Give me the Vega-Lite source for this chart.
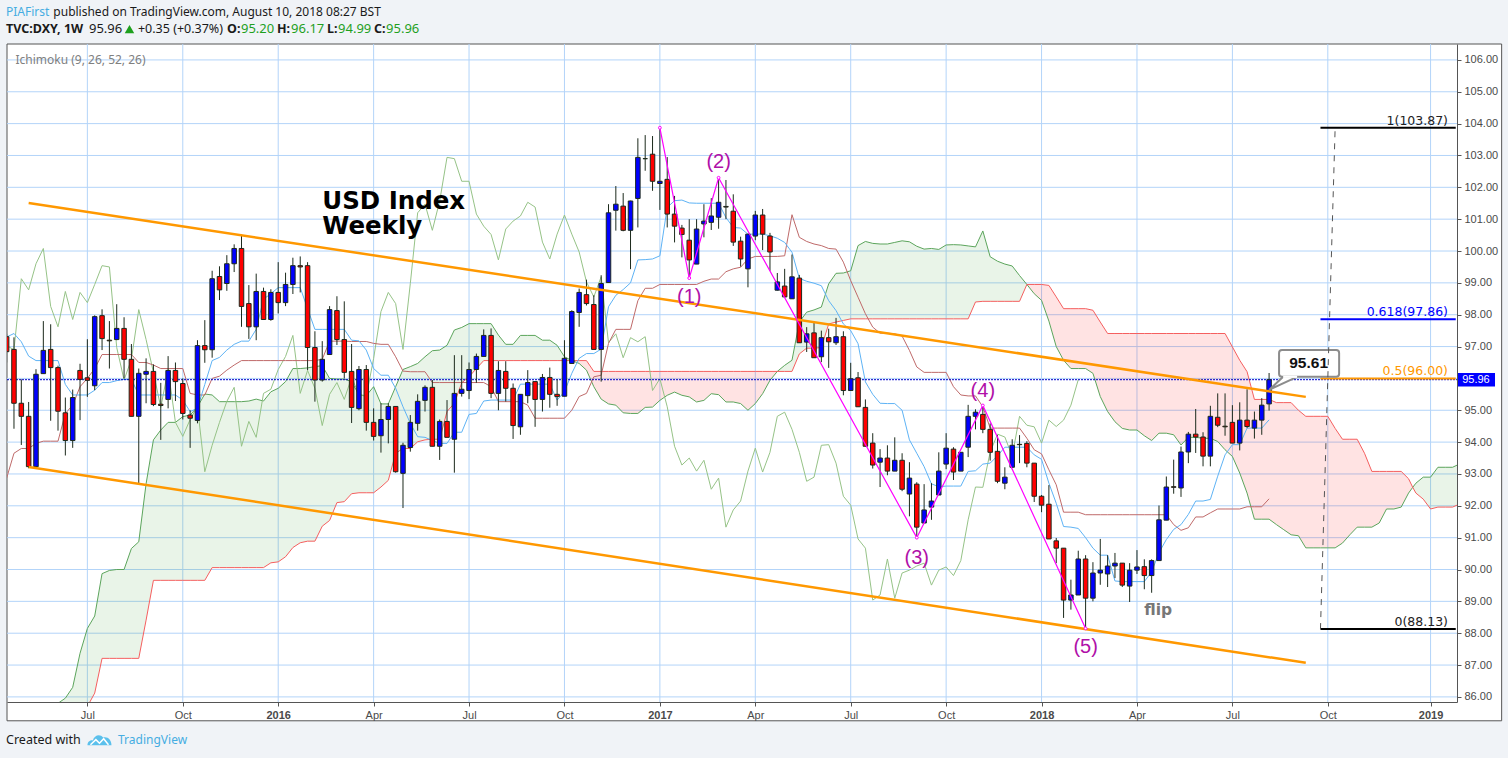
{"$schema":"https://vega.github.io/schema/vega-lite/v6.json","width":1450,"height":658,"autosize":{"type":"none"},"padding":{"left":7,"top":44,"right":51,"bottom":56},"background":"#f0f3f7","view":{"stroke":null,"fill":null},"config":{"axis":{"labelFont":"Liberation Sans"}},
"datasets":{
"candles":[
{"d":"2015-04-20","o":97.31,"h":97.4,"l":96.5,"c":96.84,"tenkan":97.3,"kijun":92.87},
{"d":"2015-04-27","o":96.91,"h":97.29,"l":94.42,"c":95.22,"tenkan":97.41,"kijun":93.65},
{"d":"2015-05-04","o":95.22,"h":95.97,"l":93.91,"c":94.81,"tenkan":97.15,"kijun":93.8},
{"d":"2015-05-11","o":94.81,"h":95.26,"l":93.18,"c":93.23,"tenkan":96.7,"kijun":93.8},
{"d":"2015-05-18","o":93.23,"h":96.29,"l":93.2,"c":96.13,"tenkan":96.56,"kijun":93.96},
{"d":"2015-05-25","o":96.15,"h":97.8,"l":96.15,"c":96.88,"tenkan":96.56,"kijun":94.03},
{"d":"2015-06-01","o":96.91,"h":97.7,"l":94.67,"c":96.34,"tenkan":96.56,"kijun":94.03},
{"d":"2015-06-08","o":96.34,"h":96.4,"l":94.36,"c":94.97,"tenkan":96.56,"kijun":94.03},
{"d":"2015-06-15","o":94.92,"h":95.4,"l":93.58,"c":94.05,"tenkan":95.81,"kijun":94.9},
{"d":"2015-06-22","o":94.05,"h":95.65,"l":93.82,"c":95.4,"tenkan":95.48,"kijun":95.16},
{"d":"2015-06-29","o":96.25,"h":96.46,"l":94.69,"c":95.97,"tenkan":95.48,"kijun":95.74},
{"d":"2015-07-06","o":96.02,"h":97.23,"l":95.42,"c":95.94,"tenkan":95.48,"kijun":96.0},
{"d":"2015-07-13","o":95.77,"h":97.98,"l":95.63,"c":97.94,"tenkan":95.63,"kijun":96.31},
{"d":"2015-07-20","o":97.97,"h":98.17,"l":96.89,"c":97.25,"tenkan":95.87,"kijun":96.75},
{"d":"2015-07-27","o":97.2,"h":97.8,"l":96.31,"c":97.18,"tenkan":95.87,"kijun":96.75},
{"d":"2015-08-03","o":97.22,"h":98.33,"l":97.2,"c":97.57,"tenkan":95.93,"kijun":96.75},
{"d":"2015-08-10","o":97.57,"h":97.92,"l":96.0,"c":96.6,"tenkan":95.97,"kijun":96.75},
{"d":"2015-08-17","o":96.6,"h":97.08,"l":94.81,"c":94.81,"tenkan":95.97,"kijun":96.75},
{"d":"2015-08-24","o":94.81,"h":96.31,"l":92.69,"c":96.16,"tenkan":95.48,"kijun":96.5},
{"d":"2015-08-31","o":96.13,"h":96.63,"l":95.22,"c":96.22,"tenkan":95.48,"kijun":96.5},
{"d":"2015-09-07","o":96.22,"h":96.44,"l":95.13,"c":95.18,"tenkan":95.48,"kijun":96.42},
{"d":"2015-09-14","o":95.19,"h":95.86,"l":94.07,"c":95.15,"tenkan":95.48,"kijun":96.31},
{"d":"2015-09-21","o":95.34,"h":96.7,"l":95.06,"c":96.25,"tenkan":95.48,"kijun":96.31},
{"d":"2015-09-28","o":96.25,"h":96.5,"l":95.29,"c":95.9,"tenkan":95.48,"kijun":96.31},
{"d":"2015-10-05","o":95.84,"h":96.0,"l":94.71,"c":94.9,"tenkan":95.32,"kijun":96.31},
{"d":"2015-10-12","o":94.85,"h":95.0,"l":93.82,"c":94.75,"tenkan":94.96,"kijun":95.53},
{"d":"2015-10-19","o":94.68,"h":97.2,"l":94.59,"c":97.03,"tenkan":95.06,"kijun":95.48},
{"d":"2015-10-26","o":97.03,"h":97.83,"l":96.49,"c":96.9,"tenkan":95.81,"kijun":95.48},
{"d":"2015-11-02","o":96.9,"h":99.38,"l":96.65,"c":99.13,"tenkan":96.56,"kijun":96.0},
{"d":"2015-11-09","o":99.2,"h":99.52,"l":98.46,"c":98.78,"tenkan":96.66,"kijun":96.07},
{"d":"2015-11-16","o":98.98,"h":99.87,"l":98.75,"c":99.6,"tenkan":96.89,"kijun":96.26},
{"d":"2015-11-23","o":99.6,"h":100.21,"l":99.34,"c":100.08,"tenkan":97.07,"kijun":96.42},
{"d":"2015-11-30","o":100.08,"h":100.51,"l":97.62,"c":98.26,"tenkan":97.17,"kijun":96.56},
{"d":"2015-12-07","o":98.35,"h":98.93,"l":97.24,"c":97.62,"tenkan":97.17,"kijun":96.56},
{"d":"2015-12-14","o":97.62,"h":99.29,"l":97.2,"c":98.73,"tenkan":97.54,"kijun":96.56},
{"d":"2015-12-21","o":98.73,"h":98.85,"l":97.85,"c":97.85,"tenkan":98.49,"kijun":96.56},
{"d":"2015-12-28","o":97.85,"h":98.8,"l":97.81,"c":98.7,"tenkan":98.66,"kijun":96.56},
{"d":"2016-01-04","o":98.7,"h":99.65,"l":98.04,"c":98.38,"tenkan":98.85,"kijun":96.56},
{"d":"2016-01-11","o":98.38,"h":99.32,"l":98.27,"c":98.95,"tenkan":98.85,"kijun":96.56},
{"d":"2016-01-18","o":98.95,"h":99.79,"l":98.65,"c":99.54,"tenkan":98.85,"kijun":96.56},
{"d":"2016-01-25","o":99.54,"h":99.83,"l":98.7,"c":99.5,"tenkan":98.85,"kijun":96.56},
{"d":"2016-02-01","o":99.54,"h":99.65,"l":96.26,"c":96.97,"tenkan":98.19,"kijun":96.56},
{"d":"2016-02-08","o":96.97,"h":97.48,"l":95.27,"c":95.95,"tenkan":97.54,"kijun":96.56},
{"d":"2016-02-15","o":95.95,"h":97.17,"l":95.9,"c":96.6,"tenkan":97.54,"kijun":96.6},
{"d":"2016-02-22","o":96.75,"h":98.27,"l":96.75,"c":98.16,"tenkan":97.54,"kijun":97.17},
{"d":"2016-02-29","o":98.13,"h":98.58,"l":97.05,"c":97.22,"tenkan":97.54,"kijun":97.17},
{"d":"2016-03-07","o":97.22,"h":98.42,"l":96.0,"c":96.19,"tenkan":97.54,"kijun":97.17},
{"d":"2016-03-14","o":96.22,"h":97.08,"l":94.6,"c":95.09,"tenkan":97.2,"kijun":97.16},
{"d":"2016-03-21","o":95.05,"h":96.39,"l":95.0,"c":96.28,"tenkan":97.18,"kijun":97.16},
{"d":"2016-03-28","o":96.28,"h":96.42,"l":94.36,"c":94.62,"tenkan":96.89,"kijun":97.16},
{"d":"2016-04-04","o":94.62,"h":95.06,"l":94.05,"c":94.18,"tenkan":96.31,"kijun":97.1},
{"d":"2016-04-11","o":94.2,"h":95.22,"l":93.67,"c":94.71,"tenkan":96.1,"kijun":97.07},
{"d":"2016-04-18","o":94.71,"h":95.22,"l":93.96,"c":95.12,"tenkan":96.1,"kijun":97.07},
{"d":"2016-04-25","o":95.12,"h":95.12,"l":93.04,"c":93.07,"tenkan":95.69,"kijun":96.68},
{"d":"2016-05-02","o":93.02,"h":93.98,"l":91.93,"c":93.9,"tenkan":95.11,"kijun":96.23},
{"d":"2016-05-09","o":93.83,"h":94.85,"l":93.7,"c":94.62,"tenkan":94.59,"kijun":96.21},
{"d":"2016-05-16","o":94.59,"h":95.5,"l":94.36,"c":95.28,"tenkan":94.17,"kijun":96.21},
{"d":"2016-05-23","o":95.31,"h":95.78,"l":94.96,"c":95.72,"tenkan":94.15,"kijun":96.21},
{"d":"2016-05-30","o":95.72,"h":95.95,"l":93.87,"c":93.87,"tenkan":94.05,"kijun":95.87},
{"d":"2016-06-06","o":93.87,"h":94.71,"l":93.44,"c":94.65,"tenkan":93.96,"kijun":95.87},
{"d":"2016-06-13","o":94.65,"h":95.32,"l":94.15,"c":94.15,"tenkan":93.96,"kijun":95.87},
{"d":"2016-06-20","o":94.09,"h":96.73,"l":93.04,"c":95.53,"tenkan":94.31,"kijun":95.87},
{"d":"2016-06-27","o":95.53,"h":96.73,"l":95.43,"c":95.66,"tenkan":94.31,"kijun":95.87},
{"d":"2016-07-04","o":95.62,"h":96.5,"l":95.35,"c":96.28,"tenkan":94.87,"kijun":95.87},
{"d":"2016-07-11","o":96.28,"h":96.78,"l":95.86,"c":96.69,"tenkan":94.9,"kijun":95.87},
{"d":"2016-07-18","o":96.69,"h":97.54,"l":96.69,"c":97.35,"tenkan":95.29,"kijun":95.87},
{"d":"2016-07-25","o":97.35,"h":97.57,"l":95.38,"c":95.53,"tenkan":95.32,"kijun":95.74},
{"d":"2016-08-01","o":95.53,"h":96.54,"l":95.0,"c":96.25,"tenkan":95.32,"kijun":95.27},
{"d":"2016-08-08","o":96.22,"h":96.54,"l":95.27,"c":95.69,"tenkan":95.32,"kijun":95.27},
{"d":"2016-08-15","o":95.69,"h":95.84,"l":94.1,"c":94.52,"tenkan":95.32,"kijun":95.27},
{"d":"2016-08-22","o":94.48,"h":95.5,"l":94.23,"c":95.5,"tenkan":95.82,"kijun":95.27},
{"d":"2016-08-29","o":95.46,"h":96.26,"l":95.22,"c":95.87,"tenkan":95.82,"kijun":95.16},
{"d":"2016-09-05","o":95.9,"h":95.9,"l":94.48,"c":95.34,"tenkan":95.82,"kijun":94.75},
{"d":"2016-09-12","o":95.34,"h":96.14,"l":94.96,"c":96.03,"tenkan":95.82,"kijun":94.75},
{"d":"2016-09-19","o":96.03,"h":96.34,"l":95.08,"c":95.5,"tenkan":95.82,"kijun":94.75},
{"d":"2016-09-26","o":95.5,"h":95.97,"l":95.14,"c":95.43,"tenkan":95.32,"kijun":94.75},
{"d":"2016-10-03","o":95.44,"h":97.2,"l":95.44,"c":96.63,"tenkan":95.58,"kijun":94.75},
{"d":"2016-10-10","o":96.47,"h":98.14,"l":96.47,"c":98.1,"tenkan":96.16,"kijun":95.0},
{"d":"2016-10-17","o":98.07,"h":98.82,"l":97.62,"c":98.7,"tenkan":96.63,"kijun":95.43},
{"d":"2016-10-24","o":98.63,"h":99.1,"l":98.29,"c":98.35,"tenkan":96.78,"kijun":95.53},
{"d":"2016-10-31","o":98.32,"h":98.61,"l":96.91,"c":96.91,"tenkan":96.78,"kijun":96.05},
{"d":"2016-11-07","o":96.91,"h":99.24,"l":95.9,"c":98.98,"tenkan":96.92,"kijun":96.1},
{"d":"2016-11-14","o":99.01,"h":101.47,"l":99.01,"c":101.2,"tenkan":98.25,"kijun":97.1},
{"d":"2016-11-21","o":101.28,"h":102.04,"l":100.64,"c":101.47,"tenkan":98.61,"kijun":97.54},
{"d":"2016-11-28","o":101.41,"h":101.82,"l":100.62,"c":100.65,"tenkan":98.79,"kijun":97.54},
{"d":"2016-12-05","o":100.65,"h":101.58,"l":99.43,"c":101.57,"tenkan":99.0,"kijun":97.54},
{"d":"2016-12-12","o":101.65,"h":103.54,"l":100.74,"c":102.94,"tenkan":99.72,"kijun":98.44},
{"d":"2016-12-19","o":102.9,"h":103.64,"l":102.52,"c":102.9,"tenkan":99.73,"kijun":98.83},
{"d":"2016-12-26","o":103.04,"h":103.61,"l":101.89,"c":102.19,"tenkan":99.75,"kijun":98.83},
{"d":"2017-01-02","o":102.12,"h":103.84,"l":101.29,"c":102.19,"tenkan":99.85,"kijun":98.95},
{"d":"2017-01-09","o":102.25,"h":102.95,"l":100.74,"c":101.16,"tenkan":101.37,"kijun":98.95},
{"d":"2017-01-16","o":101.16,"h":101.73,"l":100.27,"c":100.78,"tenkan":101.58,"kijun":98.95},
{"d":"2017-01-23","o":100.72,"h":100.82,"l":99.8,"c":100.52,"tenkan":101.6,"kijun":98.95},
{"d":"2017-01-30","o":100.34,"h":101.0,"l":99.15,"c":99.72,"tenkan":101.51,"kijun":98.95},
{"d":"2017-02-06","o":99.59,"h":101.0,"l":99.59,"c":100.69,"tenkan":101.5,"kijun":98.95},
{"d":"2017-02-13","o":100.85,"h":101.47,"l":100.43,"c":100.94,"tenkan":101.5,"kijun":99.05},
{"d":"2017-02-20","o":100.9,"h":101.66,"l":100.66,"c":101.1,"tenkan":101.5,"kijun":99.12},
{"d":"2017-02-27","o":101.06,"h":102.29,"l":100.7,"c":101.53,"tenkan":101.5,"kijun":99.12},
{"d":"2017-03-06","o":101.4,"h":102.23,"l":101.0,"c":101.38,"tenkan":101.05,"kijun":99.35},
{"d":"2017-03-13","o":101.25,"h":101.78,"l":100.16,"c":100.28,"tenkan":100.74,"kijun":99.44},
{"d":"2017-03-20","o":100.31,"h":100.45,"l":99.51,"c":99.75,"tenkan":100.72,"kijun":99.49},
{"d":"2017-03-27","o":99.44,"h":100.53,"l":98.86,"c":100.53,"tenkan":100.53,"kijun":99.75},
{"d":"2017-04-03","o":100.47,"h":101.26,"l":100.34,"c":101.13,"tenkan":100.53,"kijun":99.83},
{"d":"2017-04-10","o":101.13,"h":101.32,"l":100.03,"c":100.53,"tenkan":100.53,"kijun":99.83},
{"d":"2017-04-17","o":100.47,"h":100.57,"l":99.38,"c":99.97,"tenkan":100.48,"kijun":99.83},
{"d":"2017-04-24","o":98.77,"h":99.31,"l":98.76,"c":99.03,"tenkan":100.4,"kijun":99.83},
{"d":"2017-05-01","o":98.9,"h":99.44,"l":98.53,"c":98.56,"tenkan":100.27,"kijun":99.85},
{"d":"2017-05-08","o":98.5,"h":99.89,"l":98.5,"c":99.19,"tenkan":99.96,"kijun":101.14},
{"d":"2017-05-15","o":99.15,"h":99.25,"l":97.12,"c":97.12,"tenkan":99.14,"kijun":100.43},
{"d":"2017-05-22","o":97.14,"h":97.61,"l":96.83,"c":97.4,"tenkan":99.05,"kijun":100.3},
{"d":"2017-05-29","o":97.43,"h":97.78,"l":96.65,"c":96.65,"tenkan":98.99,"kijun":100.22},
{"d":"2017-06-05","o":96.68,"h":97.5,"l":96.51,"c":97.28,"tenkan":98.91,"kijun":100.17},
{"d":"2017-06-12","o":97.28,"h":97.56,"l":96.33,"c":97.15,"tenkan":98.44,"kijun":100.08},
{"d":"2017-06-19","o":97.12,"h":97.9,"l":97.05,"c":97.31,"tenkan":98.13,"kijun":100.06},
{"d":"2017-06-26","o":97.31,"h":97.48,"l":95.47,"c":95.62,"tenkan":97.71,"kijun":99.65},
{"d":"2017-07-03","o":95.62,"h":96.49,"l":95.62,"c":95.99,"tenkan":97.5,"kijun":99.07},
{"d":"2017-07-10","o":96.02,"h":96.2,"l":95.11,"c":95.11,"tenkan":97.09,"kijun":98.55},
{"d":"2017-07-17","o":95.09,"h":95.34,"l":93.87,"c":93.87,"tenkan":95.89,"kijun":98.03},
{"d":"2017-07-24","o":93.97,"h":94.28,"l":93.17,"c":93.28,"tenkan":95.5,"kijun":97.61},
{"d":"2017-07-31","o":93.37,"h":93.78,"l":92.59,"c":93.5,"tenkan":95.22,"kijun":97.42},
{"d":"2017-08-07","o":93.5,"h":93.9,"l":92.96,"c":93.09,"tenkan":95.21,"kijun":97.42},
{"d":"2017-08-14","o":93.09,"h":94.15,"l":93.09,"c":93.43,"tenkan":95.21,"kijun":97.4},
{"d":"2017-08-21","o":93.43,"h":93.65,"l":92.46,"c":92.52,"tenkan":95.0,"kijun":97.33},
{"d":"2017-08-28","o":92.37,"h":93.37,"l":91.67,"c":92.87,"tenkan":94.07,"kijun":96.88},
{"d":"2017-09-04","o":92.68,"h":92.74,"l":91.02,"c":91.33,"tenkan":93.65,"kijun":96.36},
{"d":"2017-09-11","o":91.46,"h":92.68,"l":91.46,"c":91.87,"tenkan":93.23,"kijun":96.19},
{"d":"2017-09-18","o":91.96,"h":92.71,"l":91.56,"c":92.15,"tenkan":92.69,"kijun":96.19},
{"d":"2017-09-25","o":92.34,"h":93.68,"l":92.34,"c":93.09,"tenkan":92.6,"kijun":96.19},
{"d":"2017-10-02","o":93.31,"h":94.28,"l":93.15,"c":93.81,"tenkan":92.62,"kijun":96.19},
{"d":"2017-10-09","o":93.78,"h":93.84,"l":92.81,"c":93.06,"tenkan":92.62,"kijun":95.74},
{"d":"2017-10-16","o":93.09,"h":93.68,"l":93.09,"c":93.68,"tenkan":92.62,"kijun":95.48},
{"d":"2017-10-23","o":93.84,"h":95.17,"l":93.53,"c":94.81,"tenkan":93.08,"kijun":95.45},
{"d":"2017-10-30","o":94.81,"h":95.03,"l":94.4,"c":94.94,"tenkan":93.1,"kijun":95.45},
{"d":"2017-11-06","o":94.87,"h":95.16,"l":94.28,"c":94.4,"tenkan":93.31,"kijun":95.11},
{"d":"2017-11-13","o":94.4,"h":94.59,"l":93.42,"c":93.68,"tenkan":93.34,"kijun":94.44},
{"d":"2017-11-20","o":93.71,"h":94.22,"l":92.71,"c":92.77,"tenkan":93.57,"kijun":94.44},
{"d":"2017-11-27","o":92.71,"h":93.21,"l":92.52,"c":92.9,"tenkan":93.84,"kijun":94.44},
{"d":"2017-12-04","o":93.21,"h":94.09,"l":93.21,"c":93.9,"tenkan":93.84,"kijun":94.44},
{"d":"2017-12-11","o":93.93,"h":94.22,"l":93.34,"c":93.92,"tenkan":93.84,"kijun":94.44},
{"d":"2017-12-18","o":93.96,"h":94.03,"l":93.21,"c":93.34,"tenkan":93.84,"kijun":94.12},
{"d":"2017-12-25","o":93.34,"h":93.34,"l":92.12,"c":92.3,"tenkan":93.6,"kijun":93.76},
{"d":"2018-01-01","o":92.3,"h":92.34,"l":91.8,"c":92.02,"tenkan":93.46,"kijun":93.63},
{"d":"2018-01-08","o":92.05,"h":92.65,"l":90.96,"c":90.96,"tenkan":92.71,"kijun":93.13},
{"d":"2018-01-15","o":90.9,"h":90.99,"l":90.2,"c":90.67,"tenkan":92.08,"kijun":92.66},
{"d":"2018-01-22","o":90.67,"h":90.67,"l":88.48,"c":89.04,"tenkan":91.35,"kijun":91.8},
{"d":"2018-01-29","o":89.04,"h":89.68,"l":88.74,"c":89.2,"tenkan":91.33,"kijun":91.8},
{"d":"2018-02-05","o":89.2,"h":90.59,"l":89.2,"c":90.33,"tenkan":91.29,"kijun":91.8},
{"d":"2018-02-12","o":90.33,"h":90.45,"l":88.15,"c":89.1,"tenkan":91.0,"kijun":91.72},
{"d":"2018-02-19","o":89.1,"h":90.23,"l":89.0,"c":89.89,"tenkan":90.67,"kijun":91.72},
{"d":"2018-02-26","o":89.89,"h":90.96,"l":89.52,"c":89.98,"tenkan":90.45,"kijun":91.72},
{"d":"2018-03-05","o":89.86,"h":90.45,"l":89.45,"c":90.11,"tenkan":90.45,"kijun":91.72},
{"d":"2018-03-12","o":90.11,"h":90.52,"l":89.73,"c":90.2,"tenkan":89.64,"kijun":91.72},
{"d":"2018-03-19","o":90.2,"h":90.2,"l":89.45,"c":89.51,"tenkan":89.62,"kijun":91.72},
{"d":"2018-03-26","o":89.48,"h":90.2,"l":88.98,"c":89.98,"tenkan":89.62,"kijun":91.72},
{"d":"2018-04-02","o":89.98,"h":90.61,"l":89.86,"c":90.08,"tenkan":89.62,"kijun":91.72},
{"d":"2018-04-09","o":90.09,"h":90.32,"l":89.38,"c":89.81,"tenkan":89.62,"kijun":91.72},
{"d":"2018-04-16","o":89.81,"h":90.32,"l":89.27,"c":90.28,"tenkan":89.93,"kijun":91.72},
{"d":"2018-04-23","o":90.28,"h":92.01,"l":90.28,"c":91.56,"tenkan":90.53,"kijun":91.72},
{"d":"2018-04-30","o":91.55,"h":92.92,"l":91.55,"c":92.59,"tenkan":90.94,"kijun":91.72},
{"d":"2018-05-07","o":92.6,"h":93.45,"l":92.38,"c":92.58,"tenkan":91.26,"kijun":91.41},
{"d":"2018-05-14","o":92.56,"h":93.86,"l":92.28,"c":93.69,"tenkan":91.41,"kijun":91.23},
{"d":"2018-05-21","o":93.69,"h":94.32,"l":93.34,"c":94.25,"tenkan":91.73,"kijun":91.31},
{"d":"2018-05-28","o":94.25,"h":95.04,"l":93.66,"c":94.16,"tenkan":92.15,"kijun":91.65},
{"d":"2018-06-04","o":94.16,"h":94.31,"l":93.24,"c":93.56,"tenkan":92.15,"kijun":91.65},
{"d":"2018-06-11","o":93.56,"h":95.14,"l":93.24,"c":94.81,"tenkan":92.2,"kijun":91.78},
{"d":"2018-06-18","o":94.78,"h":95.53,"l":94.47,"c":94.53,"tenkan":92.93,"kijun":91.9},
{"d":"2018-06-25","o":94.5,"h":95.53,"l":94.2,"c":94.48,"tenkan":93.6,"kijun":91.9},
{"d":"2018-07-02","o":94.62,"h":95.16,"l":93.97,"c":93.97,"tenkan":93.92,"kijun":91.9},
{"d":"2018-07-09","o":93.97,"h":95.25,"l":93.74,"c":94.69,"tenkan":93.92,"kijun":91.9},
{"d":"2018-07-16","o":94.69,"h":95.66,"l":94.44,"c":94.49,"tenkan":94.44,"kijun":91.97},
{"d":"2018-07-23","o":94.44,"h":94.96,"l":94.11,"c":94.69,"tenkan":94.44,"kijun":91.97},
{"d":"2018-07-30","o":94.69,"h":95.38,"l":94.23,"c":95.16,"tenkan":94.44,"kijun":91.97},
{"d":"2018-08-06","o":95.2,"h":96.17,"l":94.99,"c":95.96,"tenkan":94.7,"kijun":92.22}
],
"lagging":[
{"d":"2015-04-20","v":97.03},{"d":"2015-04-27","v":96.9},{"d":"2015-05-04","v":99.13},{"d":"2015-05-11","v":98.78},{"d":"2015-05-18","v":99.6},{"d":"2015-05-25","v":100.08},{"d":"2015-06-01","v":98.26},{"d":"2015-06-08","v":97.62},{"d":"2015-06-15","v":98.73},{"d":"2015-06-22","v":97.85},{"d":"2015-06-29","v":98.7},{"d":"2015-07-06","v":98.38},{"d":"2015-07-13","v":98.95},{"d":"2015-07-20","v":99.54},{"d":"2015-07-27","v":99.5},{"d":"2015-08-03","v":96.97},{"d":"2015-08-10","v":95.95},{"d":"2015-08-17","v":96.6},{"d":"2015-08-24","v":98.16},{"d":"2015-08-31","v":97.22},{"d":"2015-09-07","v":96.19},{"d":"2015-09-14","v":95.09},{"d":"2015-09-21","v":96.28},{"d":"2015-09-28","v":94.62},{"d":"2015-10-05","v":94.18},{"d":"2015-10-12","v":94.71},{"d":"2015-10-19","v":95.12},{"d":"2015-10-26","v":93.07},{"d":"2015-11-02","v":93.9},{"d":"2015-11-09","v":94.62},{"d":"2015-11-16","v":95.28},{"d":"2015-11-23","v":95.72},{"d":"2015-11-30","v":93.87},{"d":"2015-12-07","v":94.65},{"d":"2015-12-14","v":94.15},{"d":"2015-12-21","v":95.53},{"d":"2015-12-28","v":95.66},{"d":"2016-01-04","v":96.28},{"d":"2016-01-11","v":96.69},{"d":"2016-01-18","v":97.35},{"d":"2016-01-25","v":95.53},{"d":"2016-02-01","v":96.25},{"d":"2016-02-08","v":95.69},{"d":"2016-02-15","v":94.52},{"d":"2016-02-22","v":95.5},{"d":"2016-02-29","v":95.87},{"d":"2016-03-07","v":95.34},{"d":"2016-03-14","v":96.03},{"d":"2016-03-21","v":95.5},{"d":"2016-03-28","v":95.43},{"d":"2016-04-04","v":96.63},{"d":"2016-04-11","v":98.1},{"d":"2016-04-18","v":98.7},{"d":"2016-04-25","v":98.35},{"d":"2016-05-02","v":96.91},{"d":"2016-05-09","v":98.98},{"d":"2016-05-16","v":101.2},{"d":"2016-05-23","v":101.47},{"d":"2016-05-30","v":100.65},{"d":"2016-06-06","v":101.57},{"d":"2016-06-13","v":102.94},{"d":"2016-06-20","v":102.9},{"d":"2016-06-27","v":102.19},{"d":"2016-07-04","v":102.19},{"d":"2016-07-11","v":101.16},{"d":"2016-07-18","v":100.78},{"d":"2016-07-25","v":100.52},{"d":"2016-08-01","v":99.72},{"d":"2016-08-08","v":100.69},{"d":"2016-08-15","v":100.94},{"d":"2016-08-22","v":101.1},{"d":"2016-08-29","v":101.53},{"d":"2016-09-05","v":101.38},{"d":"2016-09-12","v":100.28},{"d":"2016-09-19","v":99.75},{"d":"2016-09-26","v":100.53},{"d":"2016-10-03","v":101.13},{"d":"2016-10-10","v":100.53},{"d":"2016-10-17","v":99.97},{"d":"2016-10-24","v":99.03},{"d":"2016-10-31","v":98.56},{"d":"2016-11-07","v":99.19},{"d":"2016-11-14","v":97.12},{"d":"2016-11-21","v":97.4},{"d":"2016-11-28","v":96.65},{"d":"2016-12-05","v":97.28},{"d":"2016-12-12","v":97.15},{"d":"2016-12-19","v":97.31},{"d":"2016-12-26","v":95.62},{"d":"2017-01-02","v":95.99},{"d":"2017-01-09","v":95.11},{"d":"2017-01-16","v":93.87},{"d":"2017-01-23","v":93.28},{"d":"2017-01-30","v":93.5},{"d":"2017-02-06","v":93.09},{"d":"2017-02-13","v":93.43},{"d":"2017-02-20","v":92.52},{"d":"2017-02-27","v":92.87},{"d":"2017-03-06","v":91.33},{"d":"2017-03-13","v":91.87},{"d":"2017-03-20","v":92.15},{"d":"2017-03-27","v":93.09},{"d":"2017-04-03","v":93.81},{"d":"2017-04-10","v":93.06},{"d":"2017-04-17","v":93.68},{"d":"2017-04-24","v":94.81},{"d":"2017-05-01","v":94.94},{"d":"2017-05-08","v":94.4},{"d":"2017-05-15","v":93.68},{"d":"2017-05-22","v":92.77},{"d":"2017-05-29","v":92.9},{"d":"2017-06-05","v":93.9},{"d":"2017-06-12","v":93.92},{"d":"2017-06-19","v":93.34},{"d":"2017-06-26","v":92.3},{"d":"2017-07-03","v":92.02},{"d":"2017-07-10","v":90.96},{"d":"2017-07-17","v":90.67},{"d":"2017-07-24","v":89.04},{"d":"2017-07-31","v":89.2},{"d":"2017-08-07","v":90.33},{"d":"2017-08-14","v":89.1},{"d":"2017-08-21","v":89.89},{"d":"2017-08-28","v":89.98},{"d":"2017-09-04","v":90.11},{"d":"2017-09-11","v":90.2},{"d":"2017-09-18","v":89.51},{"d":"2017-09-25","v":89.98},{"d":"2017-10-02","v":90.08},{"d":"2017-10-09","v":89.81},{"d":"2017-10-16","v":90.28},{"d":"2017-10-23","v":91.56},{"d":"2017-10-30","v":92.59},{"d":"2017-11-06","v":92.58},{"d":"2017-11-13","v":93.69},{"d":"2017-11-20","v":94.25},{"d":"2017-11-27","v":94.16},{"d":"2017-12-04","v":93.56},{"d":"2017-12-11","v":94.81},{"d":"2017-12-18","v":94.53},{"d":"2017-12-25","v":94.48},{"d":"2018-01-01","v":93.97},{"d":"2018-01-08","v":94.69},{"d":"2018-01-15","v":94.49},{"d":"2018-01-22","v":94.69},{"d":"2018-01-29","v":95.16},{"d":"2018-02-05","v":95.96}
],
"cloud":[
{"d":"2015-06-08","a":85.8,"b":85.0,"phase":"g1"},{"d":"2015-06-15","a":85.96,"b":85.0,"phase":"g1"},{"d":"2015-06-22","a":86.3,"b":85.1,"phase":"g1"},{"d":"2015-06-29","a":87.37,"b":85.2,"phase":"g1"},{"d":"2015-07-06","a":88.15,"b":85.7,"phase":"g1"},{"d":"2015-07-13","a":88.54,"b":86.12,"phase":"g1"},{"d":"2015-07-20","a":89.87,"b":87.21,"phase":"g1"},{"d":"2015-07-27","a":89.97,"b":87.21,"phase":"g1"},{"d":"2015-08-03","a":90.0,"b":87.21,"phase":"g1"},{"d":"2015-08-10","a":90.0,"b":87.21,"phase":"g1"},{"d":"2015-08-17","a":90.66,"b":87.21,"phase":"g1"},{"d":"2015-08-24","a":90.87,"b":87.21,"phase":"g1"},{"d":"2015-08-31","a":92.69,"b":88.41,"phase":"g1"},{"d":"2015-09-07","a":94.07,"b":89.66,"phase":"g1"},{"d":"2015-09-14","a":94.38,"b":89.66,"phase":"g1"},{"d":"2015-09-21","a":94.62,"b":89.66,"phase":"g1"},{"d":"2015-09-28","a":94.62,"b":89.66,"phase":"g1"},{"d":"2015-10-05","a":94.8,"b":89.66,"phase":"g1"},{"d":"2015-10-12","a":94.85,"b":89.66,"phase":"g1"},{"d":"2015-10-19","a":95.11,"b":89.66,"phase":"g1"},{"d":"2015-10-26","a":95.51,"b":89.66,"phase":"g1"},{"d":"2015-11-02","a":95.48,"b":90.06,"phase":"g1"},{"d":"2015-11-09","a":95.27,"b":90.06,"phase":"g1"},{"d":"2015-11-16","a":95.27,"b":90.06,"phase":"g1"},{"d":"2015-11-23","a":95.27,"b":90.06,"phase":"g1"},{"d":"2015-11-30","a":95.27,"b":90.06,"phase":"g1"},{"d":"2015-12-07","a":95.29,"b":90.06,"phase":"g1"},{"d":"2015-12-14","a":95.35,"b":90.06,"phase":"g1"},{"d":"2015-12-21","a":95.29,"b":90.06,"phase":"g1"},{"d":"2015-12-28","a":95.58,"b":90.21,"phase":"g1"},{"d":"2016-01-04","a":95.69,"b":90.24,"phase":"g1"},{"d":"2016-01-11","a":95.9,"b":90.4,"phase":"g1"},{"d":"2016-01-18","a":96.31,"b":90.69,"phase":"g1"},{"d":"2016-01-25","a":96.31,"b":90.84,"phase":"g1"},{"d":"2016-02-01","a":96.33,"b":90.89,"phase":"g1"},{"d":"2016-02-08","a":96.37,"b":90.89,"phase":"g1"},{"d":"2016-02-15","a":96.4,"b":91.36,"phase":"g1"},{"d":"2016-02-22","a":96.0,"b":91.54,"phase":"g1"},{"d":"2016-02-29","a":95.98,"b":92.1,"phase":"g1"},{"d":"2016-03-07","a":95.98,"b":92.13,"phase":"g1"},{"d":"2016-03-14","a":95.9,"b":92.38,"phase":"g1"},{"d":"2016-03-21","a":95.48,"b":92.41,"phase":"g1"},{"d":"2016-03-28","a":95.46,"b":92.41,"phase":"g1"},{"d":"2016-04-04","a":95.74,"b":92.41,"phase":"g1"},{"d":"2016-04-11","a":95.2,"b":92.59,"phase":"g1"},{"d":"2016-04-18","a":95.2,"b":92.8,"phase":"g1"},{"d":"2016-04-25","a":95.74,"b":93.65,"phase":"g1"},{"d":"2016-05-02","a":96.28,"b":93.8,"phase":"g1"},{"d":"2016-05-09","a":96.37,"b":93.8,"phase":"g1"},{"d":"2016-05-16","a":96.47,"b":94.01,"phase":"g1"},{"d":"2016-05-23","a":96.68,"b":94.07,"phase":"g1"},{"d":"2016-05-30","a":96.87,"b":94.09,"phase":"g1"},{"d":"2016-06-06","a":96.89,"b":94.09,"phase":"g1"},{"d":"2016-06-13","a":97.04,"b":94.96,"phase":"g1"},{"d":"2016-06-20","a":97.52,"b":95.22,"phase":"g1"},{"d":"2016-06-27","a":97.6,"b":95.86,"phase":"g1"},{"d":"2016-07-04","a":97.72,"b":96.05,"phase":"g1"},{"d":"2016-07-11","a":97.72,"b":96.31,"phase":"g1"},{"d":"2016-07-18","a":97.72,"b":96.56,"phase":"g1"},{"d":"2016-07-25","a":97.72,"b":96.56,"phase":"g1"},{"d":"2016-08-01","a":97.36,"b":96.56,"phase":"g1"},{"d":"2016-08-08","a":97.07,"b":96.56,"phase":"g1"},{"d":"2016-08-15","a":97.07,"b":96.56,"phase":"g1"},{"d":"2016-08-22","a":97.35,"b":96.56,"phase":"g1"},{"d":"2016-08-29","a":97.35,"b":96.56,"phase":"g1"},{"d":"2016-09-05","a":97.35,"b":96.56,"phase":"g1"},{"d":"2016-09-12","a":97.2,"b":96.56,"phase":"g1"},{"d":"2016-09-19","a":97.2,"b":96.56,"phase":"g1"},{"d":"2016-09-26","a":97.04,"b":96.56,"phase":"g1"},{"d":"2016-10-03","a":96.68,"b":96.56,"phase":"g1"},{"d":"2016-10-10","a":96.56,"b":96.56,"phase":"g1"},
{"d":"2016-10-10","a":96.56,"b":96.56,"phase":"r1"},{"d":"2016-10-17","a":96.47,"b":96.56,"phase":"r1"},{"d":"2016-10-24","a":96.26,"b":96.56,"phase":"r1"},{"d":"2016-10-31","a":95.74,"b":96.22,"phase":"r1"},{"d":"2016-11-07","a":95.35,"b":96.22,"phase":"r1"},{"d":"2016-11-14","a":95.2,"b":96.22,"phase":"r1"},{"d":"2016-11-21","a":95.16,"b":96.22,"phase":"r1"},{"d":"2016-11-28","a":94.92,"b":96.22,"phase":"r1"},{"d":"2016-12-05","a":94.9,"b":96.22,"phase":"r1"},{"d":"2016-12-12","a":94.9,"b":96.22,"phase":"r1"},{"d":"2016-12-19","a":95.09,"b":96.22,"phase":"r1"},{"d":"2016-12-26","a":95.1,"b":96.22,"phase":"r1"},{"d":"2017-01-02","a":95.31,"b":96.22,"phase":"r1"},{"d":"2017-01-09","a":95.47,"b":96.22,"phase":"r1"},{"d":"2017-01-16","a":95.57,"b":96.22,"phase":"r1"},{"d":"2017-01-23","a":95.47,"b":96.22,"phase":"r1"},{"d":"2017-01-30","a":95.42,"b":96.22,"phase":"r1"},{"d":"2017-02-06","a":95.26,"b":96.22,"phase":"r1"},{"d":"2017-02-13","a":95.31,"b":96.22,"phase":"r1"},{"d":"2017-02-20","a":95.52,"b":96.22,"phase":"r1"},{"d":"2017-02-27","a":95.49,"b":96.22,"phase":"r1"},{"d":"2017-03-06","a":95.26,"b":96.22,"phase":"r1"},{"d":"2017-03-13","a":95.26,"b":96.22,"phase":"r1"},{"d":"2017-03-20","a":95.21,"b":96.22,"phase":"r1"},{"d":"2017-03-27","a":95.0,"b":96.22,"phase":"r1"},{"d":"2017-04-03","a":95.21,"b":96.22,"phase":"r1"},{"d":"2017-04-10","a":95.52,"b":96.22,"phase":"r1"},{"d":"2017-04-17","a":95.94,"b":96.22,"phase":"r1"},{"d":"2017-04-24","a":96.22,"b":96.22,"phase":"r1"},
{"d":"2017-04-24","a":96.22,"b":96.22,"phase":"g2"},{"d":"2017-05-01","a":96.41,"b":96.22,"phase":"g2"},{"d":"2017-05-08","a":96.57,"b":96.22,"phase":"g2"},{"d":"2017-05-15","a":97.77,"b":96.77,"phase":"g2"},{"d":"2017-05-22","a":98.08,"b":96.95,"phase":"g2"},{"d":"2017-05-29","a":98.15,"b":96.95,"phase":"g2"},{"d":"2017-06-05","a":98.24,"b":96.97,"phase":"g2"},{"d":"2017-06-12","a":98.97,"b":97.71,"phase":"g2"},{"d":"2017-06-19","a":99.3,"b":97.77,"phase":"g2"},{"d":"2017-06-26","a":99.31,"b":97.82,"phase":"g2"},{"d":"2017-07-03","a":99.38,"b":97.87,"phase":"g2"},{"d":"2017-07-10","a":100.17,"b":97.87,"phase":"g2"},{"d":"2017-07-17","a":100.3,"b":97.87,"phase":"g2"},{"d":"2017-07-24","a":100.24,"b":97.87,"phase":"g2"},{"d":"2017-07-31","a":100.22,"b":97.87,"phase":"g2"},{"d":"2017-08-07","a":100.22,"b":97.87,"phase":"g2"},{"d":"2017-08-14","a":100.27,"b":97.87,"phase":"g2"},{"d":"2017-08-21","a":100.32,"b":97.87,"phase":"g2"},{"d":"2017-08-28","a":100.29,"b":97.87,"phase":"g2"},{"d":"2017-09-04","a":100.15,"b":97.87,"phase":"g2"},{"d":"2017-09-11","a":100.06,"b":97.87,"phase":"g2"},{"d":"2017-09-18","a":100.08,"b":97.87,"phase":"g2"},{"d":"2017-09-25","a":100.05,"b":97.87,"phase":"g2"},{"d":"2017-10-02","a":100.19,"b":97.87,"phase":"g2"},{"d":"2017-10-09","a":100.2,"b":97.87,"phase":"g2"},{"d":"2017-10-16","a":100.19,"b":97.87,"phase":"g2"},{"d":"2017-10-23","a":100.16,"b":97.87,"phase":"g2"},{"d":"2017-10-30","a":100.13,"b":98.4,"phase":"g2"},{"d":"2017-11-06","a":100.63,"b":98.42,"phase":"g2"},{"d":"2017-11-13","a":99.82,"b":98.42,"phase":"g2"},{"d":"2017-11-20","a":99.68,"b":98.42,"phase":"g2"},{"d":"2017-11-27","a":99.59,"b":98.42,"phase":"g2"},{"d":"2017-12-04","a":99.53,"b":98.42,"phase":"g2"},{"d":"2017-12-11","a":99.23,"b":98.42,"phase":"g2"},{"d":"2017-12-18","a":98.95,"b":98.95,"phase":"g2"},
{"d":"2017-12-18","a":98.95,"b":98.95,"phase":"r2"},{"d":"2017-12-25","a":98.66,"b":98.95,"phase":"r2"},{"d":"2018-01-01","a":98.45,"b":98.95,"phase":"r2"},{"d":"2018-01-08","a":97.8,"b":98.92,"phase":"r2"},{"d":"2018-01-15","a":97.0,"b":98.56,"phase":"r2"},{"d":"2018-01-22","a":96.57,"b":98.19,"phase":"r2"},{"d":"2018-01-29","a":96.31,"b":98.19,"phase":"r2"},{"d":"2018-02-05","a":96.31,"b":98.19,"phase":"r2"},{"d":"2018-02-12","a":96.31,"b":98.19,"phase":"r2"},{"d":"2018-02-19","a":96.16,"b":98.14,"phase":"r2"},{"d":"2018-02-26","a":95.43,"b":97.77,"phase":"r2"},{"d":"2018-03-05","a":94.96,"b":97.41,"phase":"r2"},{"d":"2018-03-12","a":94.64,"b":97.41,"phase":"r2"},{"d":"2018-03-19","a":94.43,"b":97.41,"phase":"r2"},{"d":"2018-03-26","a":94.38,"b":97.41,"phase":"r2"},{"d":"2018-04-02","a":94.38,"b":97.41,"phase":"r2"},{"d":"2018-04-09","a":94.2,"b":97.41,"phase":"r2"},{"d":"2018-04-16","a":94.05,"b":97.41,"phase":"r2"},{"d":"2018-04-23","a":94.28,"b":97.41,"phase":"r2"},{"d":"2018-04-30","a":94.28,"b":97.41,"phase":"r2"},{"d":"2018-05-07","a":94.23,"b":97.41,"phase":"r2"},{"d":"2018-05-14","a":93.91,"b":97.41,"phase":"r2"},{"d":"2018-05-21","a":94.15,"b":97.41,"phase":"r2"},{"d":"2018-05-28","a":94.15,"b":97.41,"phase":"r2"},{"d":"2018-06-04","a":94.12,"b":97.41,"phase":"r2"},{"d":"2018-06-11","a":94.12,"b":97.41,"phase":"r2"},{"d":"2018-06-18","a":94.02,"b":97.41,"phase":"r2"},{"d":"2018-06-25","a":93.76,"b":97.41,"phase":"r2"},{"d":"2018-07-02","a":93.55,"b":96.99,"phase":"r2"},{"d":"2018-07-09","a":93.03,"b":96.57,"phase":"r2"},{"d":"2018-07-16","a":92.4,"b":96.21,"phase":"r2"},{"d":"2018-07-23","a":91.58,"b":95.34,"phase":"r2"},{"d":"2018-07-30","a":91.58,"b":95.34,"phase":"r2"},{"d":"2018-08-06","a":91.58,"b":95.34,"phase":"r2"},{"d":"2018-08-13","a":91.41,"b":95.24,"phase":"r2"},{"d":"2018-08-20","a":91.25,"b":95.24,"phase":"r2"},{"d":"2018-08-27","a":91.09,"b":95.24,"phase":"r2"},{"d":"2018-09-03","a":91.06,"b":95.0,"phase":"r2"},{"d":"2018-09-10","a":90.68,"b":94.81,"phase":"r2"},{"d":"2018-09-17","a":90.68,"b":94.81,"phase":"r2"},{"d":"2018-09-24","a":90.68,"b":94.81,"phase":"r2"},{"d":"2018-10-01","a":90.68,"b":94.81,"phase":"r2"},{"d":"2018-10-08","a":90.68,"b":94.43,"phase":"r2"},{"d":"2018-10-15","a":90.83,"b":94.09,"phase":"r2"},{"d":"2018-10-22","a":91.09,"b":94.09,"phase":"r2"},{"d":"2018-10-29","a":91.33,"b":94.09,"phase":"r2"},{"d":"2018-11-05","a":91.33,"b":93.65,"phase":"r2"},{"d":"2018-11-12","a":91.33,"b":93.08,"phase":"r2"},{"d":"2018-11-19","a":91.46,"b":93.08,"phase":"r2"},{"d":"2018-11-26","a":91.9,"b":93.08,"phase":"r2"},{"d":"2018-12-03","a":91.9,"b":93.08,"phase":"r2"},{"d":"2018-12-10","a":91.96,"b":93.08,"phase":"r2"},{"d":"2018-12-17","a":92.4,"b":92.85,"phase":"r2"},{"d":"2018-12-21","a":92.58,"b":92.58,"phase":"r2"},
{"d":"2018-12-21","a":92.58,"b":92.58,"phase":"g3"},{"d":"2018-12-24","a":92.71,"b":92.4,"phase":"g3"},{"d":"2018-12-31","a":92.9,"b":92.21,"phase":"g3"},{"d":"2019-01-07","a":92.9,"b":91.9,"phase":"g3"},{"d":"2019-01-14","a":93.21,"b":91.96,"phase":"g3"},{"d":"2019-01-21","a":93.21,"b":91.96,"phase":"g3"},{"d":"2019-01-28","a":93.21,"b":91.96,"phase":"g3"},{"d":"2019-02-04","a":93.32,"b":92.06,"phase":"g3"}
]
},
"encoding":{
"x":{"field":"d","type":"temporal","title":null,"scale":{"type":"utc","padding":0,"domain":["2015-04-20T08:24:00Z","2019-02-01T05:00:00Z"]},"axis":{"zindex":1,"grid":false,"values":["2015-07-06","2015-10-05","2016-01-04","2016-04-04","2016-07-04","2016-10-03","2017-01-02","2017-04-03","2017-07-03","2017-10-02","2018-01-01","2018-04-02","2018-07-02","2018-10-01","2019-01-07"],"labelExpr":"utcmonth(datum.value)==0 ? utcFormat(datum.value,'%Y') : utcFormat(datum.value,'%b')","labelFontWeight":{"condition":{"test":"utcmonth(datum.value)==0","value":"bold"},"value":"normal"},"labelColor":"#4a4a4a","labelFontSize":11,"labelPadding":3,"tickSize":4,"tickColor":"#555555","domainColor":"#555555","labelOverlap":false,"title":null}},
"y":{"type":"quantitative","title":null,"scale":{"domain":[85.84,106.5],"nice":false,"zero":false},"axis":{"orient":"right","zindex":1,"grid":false,"values":[86,87,88,89,90,91,92,93,94,95,97,98,99,100,101,102,103,104,105,106],"format":".2f","labelColor":"#4a4a4a","labelFontSize":11,"labelPadding":3,"tickSize":4,"tickColor":"#555555","domainColor":"#555555","title":null}}
},
"resolve":{"scale":{"color":"independent"}},
"layer":[
{"data":{"values":[{"d":"2015-04-20T08:24:00Z","d2":"2019-03-15T19:00:00Z","p":106.5,"p2":85.25}]},"mark":{"type":"rect","fill":"#ffffff","stroke":"#555555","strokeWidth":1},"encoding":{"x":{"field":"d","type":"temporal"},"x2":{"field":"d2"},"y":{"field":"p","type":"quantitative"},"y2":{"field":"p2"}}},
{"data":{"values":[{"p":86},{"p":87},{"p":88},{"p":89},{"p":90},{"p":91},{"p":92},{"p":93},{"p":94},{"p":95},{"p":96},{"p":97},{"p":98},{"p":99},{"p":100},{"p":101},{"p":102},{"p":103},{"p":104},{"p":105},{"p":106}]},"mark":{"type":"rule","stroke":"#b3d4f9","strokeWidth":1},"encoding":{"x":{"value":0},"x2":{"value":1450},"y":{"field":"p","type":"quantitative"}}},
{"data":{"values":[{"d":"2015-07-06"},{"d":"2015-10-05"},{"d":"2016-01-04"},{"d":"2016-04-04"},{"d":"2016-07-04"},{"d":"2016-10-03"},{"d":"2017-01-02"},{"d":"2017-04-03"},{"d":"2017-07-03"},{"d":"2017-10-02"},{"d":"2018-01-01"},{"d":"2018-04-02"},{"d":"2018-07-02"},{"d":"2018-10-01"},{"d":"2019-01-07"}]},"mark":{"type":"rule","stroke":"#b3d4f9","strokeWidth":1},"encoding":{"x":{"field":"d","type":"temporal"},"y":{"value":0},"y2":{"value":658}}},
{"data":{"name":"cloud"},"mark":{"type":"area","clip":true,"opacity":0.11,"interpolate":"linear"},"encoding":{"y":{"field":"a","type":"quantitative"},"y2":{"field":"b"},"color":{"field":"phase","type":"nominal","legend":null,"scale":{"domain":["g1","g2","g3","r1","r2"],"range":["#3a9a30","#3a9a30","#3a9a30","#ff0000","#ff0000"]}}}},
{"data":{"name":"cloud"},"mark":{"type":"line","clip":true,"stroke":"#5ca55c","strokeWidth":1},"encoding":{"y":{"field":"a","type":"quantitative"}}},
{"data":{"name":"cloud"},"mark":{"type":"line","clip":true,"stroke":"#f55f5f","strokeWidth":1},"encoding":{"y":{"field":"b","type":"quantitative"}}},
{"data":{"name":"lagging"},"mark":{"type":"line","clip":true,"stroke":"#96c387","strokeWidth":1},"encoding":{"y":{"field":"v","type":"quantitative"}}},
{"data":{"name":"candles"},"mark":{"type":"line","clip":true,"stroke":"#bf6a6a","strokeWidth":1},"encoding":{"y":{"field":"kijun","type":"quantitative"}}},
{"data":{"name":"candles"},"mark":{"type":"line","clip":true,"stroke":"#5eb3f5","strokeWidth":1},"encoding":{"y":{"field":"tenkan","type":"quantitative"}}},
{"data":{"values":[{"p":95.96}]},"mark":{"type":"rule","stroke":"#0000c8","strokeWidth":1,"strokeDash":[2,1]},"encoding":{"x":{"value":0},"x2":{"value":1450},"y":{"field":"p","type":"quantitative"}}},
{"data":{"name":"candles"},"mark":{"type":"rule","clip":true,"stroke":"#1c2a1c","strokeWidth":1},"encoding":{"y":{"field":"h","type":"quantitative"},"y2":{"field":"l"}}},
{"data":{"name":"candles"},"mark":{"type":"bar","orient":"vertical","clip":true,"size":4.5,"stroke":"#1c2a1c","strokeWidth":1},"encoding":{"y":{"field":"o","type":"quantitative"},"y2":{"field":"c"},"fill":{"condition":{"test":"datum.c>=datum.o","value":"#0000ff"},"value":"#ff0000"}}},
{"data":{"values":[{"d":"2015-05-11","p":101.51,"line":"upper"},{"d":"2018-09-10","p":95.42,"line":"upper"},{"d":"2015-05-11","p":93.22,"line":"lower"},{"d":"2018-09-10","p":87.07,"line":"lower"}]},"mark":{"type":"line","stroke":"#ff9800","strokeWidth":2.5},"encoding":{"y":{"field":"p","type":"quantitative"},"detail":{"field":"line"}}},
{"data":{"values":[{"d":"2017-01-02","p":103.87},{"d":"2017-01-30","p":99.15},{"d":"2017-02-27","p":102.3},{"d":"2017-09-04","p":91.0},{"d":"2017-11-06","p":95.15},{"d":"2018-02-12","p":88.15}]},"mark":{"type":"line","stroke":"#ff00ff","strokeWidth":1.2,"point":{"filled":false,"stroke":"#ff00ff","fill":"#ffffff","size":8,"strokeWidth":1}},"encoding":{"y":{"field":"p","type":"quantitative"}}},
{"data":{"values":[{"d":"2017-01-30","p":98.57,"t":"(1)"},{"d":"2017-02-27","p":102.8,"t":"(2)"},{"d":"2017-09-04","p":90.36,"t":"(3)"},{"d":"2017-11-06","p":95.6,"t":"(4)"},{"d":"2018-02-12","p":87.57,"t":"(5)"}]},"mark":{"type":"text","font":"Liberation Sans","fontSize":20,"fill":"#b010a8","baseline":"middle","align":"center"},"encoding":{"y":{"field":"p","type":"quantitative"},"text":{"field":"t"}}},
{"data":{"values":[{"d":"2018-09-24","d2":"2019-01-31","p":103.87,"level":"1"},{"d":"2018-09-24","d2":"2019-01-31","p":97.86,"level":"0.618"},{"d":"2018-09-24","d2":"2019-01-31","p":96.0,"level":"0.5"},{"d":"2018-09-24","d2":"2019-01-31","p":88.13,"level":"0"}]},"mark":{"type":"rule","strokeWidth":2},"encoding":{"x2":{"field":"d2"},"y":{"field":"p","type":"quantitative"},"color":{"field":"level","type":"nominal","legend":null,"scale":{"domain":["1","0.618","0.5","0"],"range":["#000000","#0000ff","#ff9800","#000000"]}}}},
{"data":{"values":[{"d":"2019-01-23T15:00:00Z","p":103.87,"level":"1","t":"1(103.87)"},{"d":"2019-01-23T15:00:00Z","p":97.86,"level":"0.618","t":"0.618(97.86)"},{"d":"2019-01-23T15:00:00Z","p":96.0,"level":"0.5","t":"0.5(96.00)"},{"d":"2019-01-23T15:00:00Z","p":88.13,"level":"0","t":"0(88.13)"}]},"mark":{"type":"text","font":"DejaVu Sans","fontSize":12.5,"align":"right","baseline":"bottom"},"encoding":{"y":{"field":"p","type":"quantitative"},"text":{"field":"t"},"color":{"field":"level","type":"nominal","legend":null,"scale":{"domain":["1","0.618","0.5","0"],"range":["#222222","#0000ff","#ff9800","#222222"]}}}},
{"data":{"values":[{"d":"2018-08-06","p":95.64,"p2":95.64},{"d":"2018-08-19T10:00:00Z","p":96.05,"p2":95.84},{"d":"2018-09-01T17:00:00Z","p":96.05,"p2":96.05}]},"mark":{"type":"area","fill":"#ffffff","interpolate":"linear"},"encoding":{"y":{"field":"p","type":"quantitative"},"y2":{"field":"p2"}}},
{"data":{"values":[{"d":"2018-08-19T10:00:00Z","p":96.05,"seq":1},{"d":"2018-08-06","p":95.64,"seq":2},{"d":"2018-09-01T17:00:00Z","p":96.05,"seq":3}]},"mark":{"type":"line","stroke":"#8c8c8c","strokeWidth":2},"encoding":{"y":{"field":"p","type":"quantitative"},"order":{"field":"seq","type":"quantitative"}}},
{"data":{"values":[{"d":"2018-08-15T12:00:00Z","d2":"2018-10-11T19:00:00Z","p":96.89,"p2":96.05}]},"mark":{"type":"rect","fill":"#ffffff","stroke":"#8c8c8c","strokeWidth":2,"cornerRadius":3},"encoding":{"x2":{"field":"d2"},"y":{"field":"p","type":"quantitative"},"y2":{"field":"p2"}}},
{"data":{"values":[{"d":"2018-08-19T10:00:00Z","d2":"2018-09-01T17:00:00Z","p":96.05}]},"mark":{"type":"rule","stroke":"#ffffff","strokeWidth":2.2},"encoding":{"x2":{"field":"d2"},"y":{"field":"p","type":"quantitative"}}},
{"data":{"values":[{"d":"2018-09-12T17:00:00Z","p":96.47,"t":"95.61"}]},"mark":{"type":"text","font":"Liberation Sans","fontSize":15.5,"fontWeight":"bold","fill":"#111111","align":"center","baseline":"middle"},"encoding":{"y":{"field":"p","type":"quantitative"},"text":{"field":"t"}}},
{"data":{"values":[{"d":"2018-10-08","p":103.87},{"d":"2018-09-24","p":88.13}]},"mark":{"type":"line","stroke":"#555555","strokeWidth":1,"strokeDash":[6,6]},"encoding":{"y":{"field":"p","type":"quantitative"}}},
{"data":{"values":[{"d":"2019-02-01T05:00:00Z","d2":"2019-03-09T11:00:00Z","p":96.17,"p2":95.75}]},"mark":{"type":"rect","fill":"#0000ff"},"encoding":{"x2":{"field":"d2"},"y":{"field":"p","type":"quantitative"},"y2":{"field":"p2"}}},
{"data":{"values":[{"d":"2019-02-19T07:00:00Z","p":95.96,"t":"95.96"}]},"mark":{"type":"text","font":"Liberation Sans","fontSize":11,"fill":"#ffffff","align":"center","baseline":"middle"},"encoding":{"y":{"field":"p","type":"quantitative"},"text":{"field":"t"}}},
{"data":{"values":[{"d":"2016-02-15","p":101.54,"t":"USD Index"},{"d":"2016-02-15","p":100.76,"t":"Weekly"}]},"mark":{"type":"text","font":"DejaVu Sans","fontSize":24.5,"fontWeight":"bold","fill":"#000000","align":"left","baseline":"middle"},"encoding":{"y":{"field":"p","type":"quantitative"},"text":{"field":"t"}}},
{"data":{"values":[{"d":"2018-04-09","p":88.73,"t":"flip"}]},"mark":{"type":"text","font":"DejaVu Sans","fontSize":15.5,"fontWeight":"bold","fill":"#777777","align":"left","baseline":"middle"},"encoding":{"y":{"field":"p","type":"quantitative"},"text":{"field":"t"}}},
{"data":{"values":[{"d":"2015-04-28T11:00:00Z","p":106.0,"t":"Ichimoku (9, 26, 52, 26)"}]},"mark":{"type":"text","font":"Noto Sans","fontSize":12,"fill":"#808080","align":"left","baseline":"middle"},"encoding":{"y":{"field":"p","type":"quantitative"},"text":{"field":"t"}}},
{"data":{"values":[{"d":"2015-04-19T10:00:00Z","p":107.52,"t":"PIAFirst"},{"d":"2015-08-04T06:00:00Z","p":84.65,"t":"TradingView"}]},"mark":{"type":"text","font":"Noto Sans","fontSize":12,"fill":"#45ade2","align":"left","baseline":"middle"},"encoding":{"y":{"field":"p","type":"quantitative"},"text":{"field":"t"}}},
{"data":{"values":[{"d":"2015-06-03T13:00:00Z","p":107.52,"t":"published on TradingView.com, August 10, 2018 08:27 BST"}]},"mark":{"type":"text","font":"Noto Sans","fontSize":12,"fill":"#1a1a1a","align":"left","baseline":"middle"},"encoding":{"y":{"field":"p","type":"quantitative"},"text":{"field":"t"}}},
{"data":{"values":[{"d":"2015-04-19T10:00:00Z","p":84.65,"t":"Created with"},{"d":"2015-08-23T06:00:00Z","p":106.97,"t":"+0.35 (+0.37%)"}]},"mark":{"type":"text","font":"Noto Sans","fontSize":12.5,"fill":"#1a1a1a","align":"left","baseline":"middle"},"encoding":{"y":{"field":"p","type":"quantitative"},"text":{"field":"t"}}},
{"data":{"values":[{"d":"2015-07-07T13:00:00Z","p":106.97,"t":"95.96"}]},"mark":{"type":"text","font":"Noto Sans","fontSize":13,"fill":"#1a1a1a","align":"left","baseline":"middle"},"encoding":{"y":{"field":"p","type":"quantitative"},"text":{"field":"t"}}},
{"data":{"values":[{"d":"2015-04-19T10:00:00Z","p":106.97,"t":"TVC:DXY, 1W"},{"d":"2015-11-16T04:00:00Z","p":106.97,"t":"O:"},{"d":"2016-01-02T20:00:00Z","p":106.97,"t":"H:"},{"d":"2016-02-19T13:00:00Z","p":106.97,"t":"L:"},{"d":"2016-04-04T08:00:00Z","p":106.97,"t":"C:"}]},"mark":{"type":"text","font":"Noto Sans","fontSize":12.5,"fontWeight":"bold","fill":"#1a1a1a","align":"left","baseline":"middle"},"encoding":{"y":{"field":"p","type":"quantitative"},"text":{"field":"t"}}},
{"data":{"values":[{"d":"2015-11-29T12:00:00Z","p":106.97,"t":"95.20"},{"d":"2016-01-16T06:00:00Z","p":106.97,"t":"96.17"},{"d":"2016-03-01T01:00:00Z","p":106.97,"t":"94.99"},{"d":"2016-04-15T20:00:00Z","p":106.97,"t":"95.96"}]},"mark":{"type":"text","font":"Noto Sans","fontSize":13,"fill":"#1ea01e","align":"left","baseline":"middle"},"encoding":{"y":{"field":"p","type":"quantitative"},"text":{"field":"t"}}},
{"data":{"values":[{"d":"2015-08-15T04:00:00Z","p":106.97}]},"mark":{"type":"point","filled":true,"fill":"#1ea01e","opacity":1,"size":90,"shape":"triangle-up"},"encoding":{"y":{"field":"p","type":"quantitative"}}},
{"data":{"values":[{"d":"2015-07-17T13:00:00Z","p":84.65}]},"mark":{"type":"point","filled":true,"fill":"#5bc0ec","opacity":1,"size":576,"shape":"M-1,0.45 C-1,0.1 -0.7,0 -0.55,0.05 C-0.45,-0.4 0.05,-0.55 0.3,-0.2 C0.7,-0.3 1,0 1,0.45 Z"},"encoding":{"y":{"field":"p","type":"quantitative"}}},
{"data":{"values":[{"d":"2015-07-17T13:00:00Z","p":84.65}]},"mark":{"type":"point","filled":false,"stroke":"#ffffff","strokeWidth":1.5,"opacity":1,"size":576,"shape":"M-0.75,0.4 L-0.3,-0.02 L0,0.28 L0.35,-0.1 L0.75,0.4"},"encoding":{"y":{"field":"p","type":"quantitative"}}}
]
}
